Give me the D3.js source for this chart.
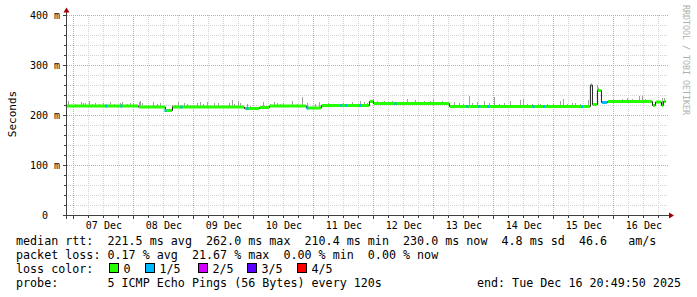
<!DOCTYPE html>
<html>
<head>
<meta charset="utf-8">
<script src="https://cdn.jsdelivr.net/npm/d3@7"></script>
<style>
body { margin: 0; background: #fff; }
svg { display: block; }
text { font-family: "DejaVu Sans Mono", monospace; white-space: pre; fill: #000; }
</style>
</head>
<body>
<svg></svg>
<script>

// DATA (time in fractional days of December, values in ms)

var startDay = 6.868
var endDay = 16.868

var dayLabels = ["07 Dec", "08 Dec", "09 Dec", "10 Dec", "11 Dec", "12 Dec", "13 Dec", "14 Dec", "15 Dec", "16 Dec"]
var yLabels = ["0  ", "100 m", "200 m", "300 m", "400 m"]

// median rtt as steps: start of each step, value, loss level
var medianStart = [6.868, 8.075, 8.525, 8.642, 9.842, 10.092, 10.258, 10.875, 11.125, 11.925, 11.992, 13.258, 15.608, 15.642, 15.725, 15.792, 15.892, 16.642, 16.692, 16.792, 16.825]
var medianMs    = [219,   217,   210,   217,   214,   216,    219,    215,    220,    228,    224,    218,    261,    222,    250,    226,    228,    220,    227,    220,    228]
var medianLoss  = [0,     0,     0,     0,     0,     0,      0,      0,      0,      0,      0,      0,      1,      0,      0,      1,      0,      0,      0,      0,      0]

// single samples with 1/5 loss
var lossDays = [7.542, 7.792, 8.525, 8.792, 9.892, 10.892, 11.458, 11.542, 11.775, 12.358, 13.558, 13.758, 13.908, 14.658, 14.842, 15.475]

// smoke spikes (highest ping of a sample)
var spikeDays = [6.918, 7.030, 7.123, 7.168, 7.196, 7.268, 7.306, 7.363, 7.418, 7.501, 7.613, 7.668, 7.780, 7.806, 7.890, 7.946, 8.001, 8.085, 8.113, 8.140, 8.251, 8.323, 8.390, 8.446, 8.640, 8.696, 8.751, 8.835, 8.890, 8.946, 9.056, 9.113, 9.168, 9.223, 9.335,
	9.418, 9.585, 9.640, 9.680, 9.751, 9.780, 9.890, 9.946, 10.156, 10.280, 10.335, 10.390, 10.446, 10.501, 10.640, 10.723, 10.806, 10.890, 11.030, 11.085, 11.168, 11.251, 11.335, 11.501, 11.585, 11.640, 11.696, 11.780, 11.835,
	11.890, 11.990, 12.056, 12.168, 12.306, 12.556, 12.696, 12.835, 12.946, 13.001, 13.140, 13.335, 13.418, 13.501, 13.601, 13.640, 13.723, 13.835, 13.918, 14.013, 14.085, 14.168, 14.280,
	14.446, 14.490, 14.556, 14.640, 14.735, 14.780, 14.890, 15.001, 15.113, 15.156, 15.223, 15.306, 15.363, 15.446, 15.568, 15.723, 15.751, 16.001, 16.140, 16.223, 16.306, 16.418, 16.473, 16.530, 16.613, 16.806, 16.846]
var spikeMs = [229, 223, 228, 225, 225, 230, 223, 225, 223, 225, 227, 223, 225, 227, 223, 225, 225, 227, 230, 225, 222, 228, 223, 225, 222, 222, 227, 225, 223, 222, 225, 228, 223, 228, 225,
	225, 225, 231, 223, 229, 225, 223, 220, 227, 223, 227, 225, 223, 225, 230, 223, 237, 225, 223, 227, 223, 225, 223, 225, 223, 228, 223, 230, 227,
	225, 233, 230, 229, 230, 233, 231, 230, 230, 231, 229, 227, 225, 223, 240, 225, 227, 229, 225, 237, 223, 225, 230,
	232, 234, 224, 223, 224, 224, 223, 224, 229, 234, 224, 226, 226, 224, 232, 262, 255, 232, 234, 236, 234, 239, 239, 234, 232, 235, 235]

var lossNames = ["0", "1/5", "2/5", "3/5", "4/5"]
var lossColors = ["#26ff00", "#00b8ff", "#d400ff", "#5c00ff", "#ff0000"]

var legendLines = [
	"median rtt:  221.5 ms avg  262.0 ms max  210.4 ms min  230.0 ms now  4.8 ms sd  46.6   am/s",
	"packet loss: 0.17 % avg  21.67 % max  0.00 % min  0.00 % now"
]
var probeText = "probe:       5 ICMP Echo Pings (56 Bytes) every 120s"
var endText = "end: Tue Dec 16 20:49:50 2025"

// VIS

var width = 697
var height = 297

var svg = d3.select("svg")
	.attr("width", width)
	.attr("height", height)

var x = d3.scaleLinear().domain([startDay, endDay]).range([66, 666])
var y = d3.scaleLinear().domain([0, 400]).range([215.5, 15.5])

function px(v) { return Math.floor(v) + 0.5 }

function medianAt(day) {
	var i = d3.bisectRight(medianStart, day) - 1
	return medianMs[Math.max(i, 0)]
}

// GRID

var grid = svg.append("g").attr("class", "grid")

var minorDays = d3.range(7, endDay, 0.25).filter(function(d) { return d % 1 != 0 })
var majorDays = d3.range(7, 17)
var minorMs = d3.range(20, 401, 20).filter(function(d) { return d % 100 != 0 })

var minorColor = "#d2d2d2"
var majorColor = "#e69a9a"

grid.selectAll(".vminor").data(minorDays).enter().append("line")
	.attr("x1", function(d) { return px(x(d)) }).attr("x2", function(d) { return px(x(d)) })
	.attr("y1", 15).attr("y2", 215)
	.attr("stroke", minorColor).attr("stroke-dasharray", "1,1")

grid.selectAll(".hminor").data(minorMs).enter().append("line")
	.attr("x1", 66).attr("x2", 668)
	.attr("y1", function(d) { return y(d) }).attr("y2", function(d) { return y(d) })
	.attr("stroke", minorColor).attr("stroke-dasharray", "1,1")

grid.selectAll(".vmajor").data(majorDays).enter().append("line")
	.attr("x1", function(d) { return px(x(d)) }).attr("x2", function(d) { return px(x(d)) })
	.attr("y1", 15).attr("y2", 219)
	.attr("stroke", majorColor).attr("stroke-dasharray", "1,1")

grid.selectAll(".hmajor").data([100, 200, 300, 400]).enter().append("line")
	.attr("x1", 63).attr("x2", 668)
	.attr("y1", function(d) { return y(d) }).attr("y2", function(d) { return y(d) })
	.attr("stroke", majorColor).attr("stroke-dasharray", "1,1")

// SMOKE

svg.append("g").selectAll("rect").data(spikeDays).enter().append("rect")
	.attr("x", function(d) { return Math.floor(x(d)) })
	.attr("width", 1)
	.attr("y", function(d, i) { return Math.round(y(spikeMs[i])) })
	.attr("height", function(d, i) { return Math.max(0, Math.round(y(medianAt(d))) - Math.round(y(spikeMs[i]))) })
	.attr("fill", "#a0a0a0")

// MEDIAN

var steps = medianStart.map(function(d, i) {
	return { x0: d, x1: i < medianStart.length - 1 ? medianStart[i + 1] : endDay, v: medianMs[i], loss: medianLoss[i] }
})

var stepLine = d3.line()
	.x(function(d) { return x(d[0]) })
	.y(function(d) { return y(d[1]) })
	.curve(d3.curveStepAfter)

svg.append("path")
	.attr("d", stepLine(medianStart.map(function(d, i) { return [d, medianMs[i]] }).concat([[endDay, medianMs[medianMs.length - 1]]])))
	.attr("fill", "none")
	.attr("stroke", "#202020")
	.attr("stroke-width", 1)

svg.append("g").selectAll("line").data(steps).enter().append("line")
	.attr("x1", function(d) { return x(d.x0) + 0.5 })
	.attr("x2", function(d) { return x(d.x1) - 0.5 })
	.attr("y1", function(d) { return y(d.v) })
	.attr("y2", function(d) { return y(d.v) })
	.attr("stroke", function(d) { return lossColors[d.loss] })
	.attr("stroke-width", 3)

svg.append("g").selectAll("line").data(lossDays).enter().append("line")
	.attr("x1", function(d) { return x(d) - 1 })
	.attr("x2", function(d) { return x(d) + 1 })
	.attr("y1", function(d) { return y(medianAt(d)) })
	.attr("y2", function(d) { return y(medianAt(d)) })
	.attr("stroke", lossColors[1])
	.attr("stroke-width", 3)

// AXES

var axisColor = "#404040"
var arrowColor = "#a00000"

var ticks = svg.append("g")

ticks.selectAll(".xt").data(minorDays.concat(majorDays)).enter().append("line")
	.attr("x1", function(d) { return px(x(d)) }).attr("x2", function(d) { return px(x(d)) })
	.attr("y1", 215).attr("y2", function(d) { return d % 1 == 0 ? 219 : 218 })
	.attr("stroke", axisColor)

ticks.selectAll(".yt").data(minorMs.concat([100, 200, 300, 400])).enter().append("line")
	.attr("x1", function(d) { return d % 100 == 0 ? 63 : 64 }).attr("x2", 66)
	.attr("y1", function(d) { return y(d) }).attr("y2", function(d) { return y(d) })
	.attr("stroke", axisColor)

svg.append("line")
	.attr("x1", 63).attr("x2", 669).attr("y1", 215.5).attr("y2", 215.5)
	.attr("stroke", axisColor)

svg.append("line")
	.attr("x1", 66.5).attr("x2", 66.5).attr("y1", 219).attr("y2", 12)
	.attr("stroke", axisColor)

svg.append("path")
	.attr("d", "M669,212.5L674,215.5L669,218.5Z")
	.attr("fill", arrowColor)

svg.append("path")
	.attr("d", "M63.5,12.5L66.5,7.5L69.5,12.5Z")
	.attr("fill", arrowColor)

// LABELS

svg.append("g").selectAll("text").data(yLabels).enter().append("text")
	.attr("x", 60)
	.attr("y", function(d, i) { return y(i * 100) + 3.5 })
	.attr("text-anchor", "end")
	.style("font-size", "10px")
	.text(function(d) { return d })

svg.append("g").selectAll("text").data(dayLabels).enter().append("text")
	.attr("x", function(d, i) { return x(majorDays[i] + 0.5) })
	.attr("y", 229)
	.attr("text-anchor", "middle")
	.style("font-size", "10px")
	.text(function(d) { return d })

svg.append("text")
	.attr("transform", "translate(15.5,114) rotate(-90)")
	.attr("text-anchor", "middle")
	.style("font-size", "11px")
	.text("Seconds")

svg.append("text")
	.attr("transform", "translate(683,5) rotate(90)")
	.style("font-size", "8.3px")
	.style("fill", "#b0b0b0")
	.text("RRDTOOL / TOBI OETIKER")

// LEGEND

var legend = svg.append("g").style("font-size", "11.7px")

legend.selectAll(".ln").data(legendLines).enter().append("text")
	.attr("x", 16)
	.attr("y", function(d, i) { return 244.5 + i * 14 })
	.text(function(d) { return d })

legend.append("text").attr("x", 16).attr("y", 272.5).text("loss color:")

var boxX = [109, 145, 198, 247, 297]

lossNames.forEach(function(n, i) {
	legend.append("rect")
		.attr("x", boxX[i] + 0.5).attr("y", 263.5)
		.attr("width", 9).attr("height", 9)
		.attr("fill", lossColors[i])
		.attr("stroke", "#000")
	legend.append("text")
		.attr("x", boxX[i] + 14.5).attr("y", 272.5)
		.text(n)
})

legend.append("text").attr("x", 16).attr("y", 286.5).text(probeText)
legend.append("text").attr("x", 681).attr("y", 286.5).attr("text-anchor", "end").text(endText)

</script>
</body>
</html>
